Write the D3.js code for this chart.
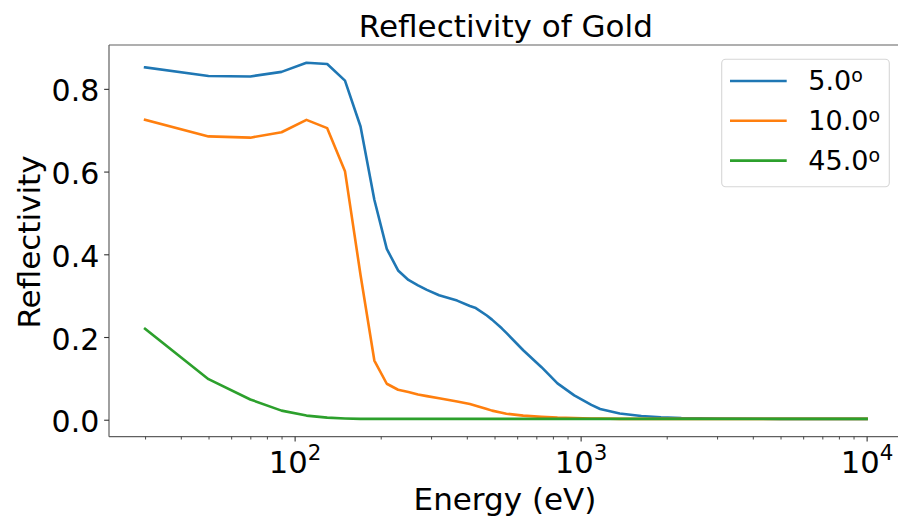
<!DOCTYPE html>
<html>
<head>
<meta charset="utf-8">
<script src="https://cdn.jsdelivr.net/npm/d3@7"></script>
<style>
  html, body { margin: 0; padding: 0; background: #ffffff; }
  svg { display: block; font-family: "DejaVu Sans", sans-serif; }
</style>
</head>
<body>
<svg id="chart" width="898" height="519"></svg>
<script>
// Photon energy grid (eV) and reflectivity of gold at three grazing angles
const energies = [30, 50, 70, 90, 110, 130, 150, 170, 190, 210, 230, 250, 270, 290, 320, 350, 370,
  410, 430, 470, 490, 530, 550, 630, 730, 830, 950, 1090, 1170, 1370, 1630, 1910, 2250, 3000, 5000, 10000];

const refl5 = [0.852, 0.831, 0.830, 0.841, 0.863, 0.860, 0.820, 0.709, 0.532, 0.413, 0.361, 0.338, 0.325,
  0.314, 0.301, 0.293, 0.288, 0.275, 0.270, 0.252, 0.242, 0.221, 0.210, 0.168, 0.127, 0.088, 0.059,
  0.036, 0.026, 0.015, 0.009, 0.006, 0.004, 0.003, 0.002, 0.002];

const refl10 = [0.725, 0.685, 0.682, 0.695, 0.725, 0.705, 0.601, 0.350, 0.143, 0.087, 0.0725, 0.067, 0.061,
  0.057, 0.052, 0.047, 0.044, 0.038, 0.034, 0.026, 0.022, 0.017, 0.0145, 0.010, 0.007, 0.005, 0.004,
  0.003, 0.003, 0.002, 0.002, 0.002, 0.002, 0.002, 0.002, 0.002];

const refl45 = [0.220, 0.098, 0.049, 0.022, 0.010, 0.005, 0.003, 0.002, 0.002, 0.002, 0.002, 0.002, 0.002,
  0.002, 0.002, 0.002, 0.002, 0.002, 0.002, 0.002, 0.002, 0.002, 0.002, 0.002, 0.002, 0.002, 0.002,
  0.002, 0.002, 0.002, 0.002, 0.002, 0.002, 0.002, 0.002, 0.002];

const angleLabels = ["5.0", "10.0", "45.0"];
const seriesColors = ["#1f77b4", "#ff7f0e", "#2ca02c"];
const yTickValues = [0.0, 0.2, 0.4, 0.6, 0.8];
const xMajorExponents = [2, 3, 4];

(function drawChart() {
  const series = [refl5, refl10, refl45].map((vals, i) => ({
    label: angleLabels[i],
    color: seriesColors[i],
    points: energies.map((e, j) => [e, vals[j]])
  }));

  // Axes box
  const axLeft = 109, axTop = 45, axBottom = 436.7;
  const decadePx = 286.0;

  // Log x scale with 5% padding in log space
  const lx0 = Math.log10(d3.min(energies)), lx1 = Math.log10(d3.max(energies));
  const lpad = (lx1 - lx0) * 0.05;
  const xDom = [Math.pow(10, lx0 - lpad), Math.pow(10, lx1 + lpad)];
  const axRight = axLeft + (lx1 - lx0 + 2 * lpad) * decadePx;
  const x = d3.scaleLog().domain(xDom).range([axLeft, axRight]);

  // Linear y scale with 5% padding
  const allY = [].concat(refl5, refl10, refl45);
  const y0 = d3.min(allY), y1 = d3.max(allY);
  const ypad = (y1 - y0) * 0.05;
  const y = d3.scaleLinear().domain([y0 - ypad, y1 + ypad]).range([axBottom, axTop]);

  const svg = d3.select("#chart");
  const tickLen = 4.86, tickPad = 4.86;

  // Data lines
  const line = d3.line().x(d => x(d[0])).y(d => y(d[1]));
  svg.append("g").selectAll("path").data(series).join("path")
    .attr("d", d => line(d.points))
    .attr("fill", "none")
    .attr("stroke", d => d.color)
    .attr("stroke-width", 2.6)
    .attr("stroke-linejoin", "round")
    .attr("stroke-linecap", "square");

  // Spines
  const spineColor = "#606060";
  const spines = [
    [axLeft, axTop, axLeft, axBottom],
    [axLeft, axBottom, axRight, axBottom],
    [axLeft, axTop, axRight, axTop],
    [axRight, axTop, axRight, axBottom]
  ];
  svg.append("g").selectAll("line").data(spines).join("line")
    .attr("x1", d => d[0]).attr("y1", d => d[1]).attr("x2", d => d[2]).attr("y2", d => d[3])
    .attr("stroke", spineColor).attr("stroke-width", 1.2);

  // Y axis
  const yAxis = d3.axisLeft(y).tickValues(yTickValues).tickFormat(d3.format(".1f"))
    .tickSize(tickLen).tickPadding(tickPad);
  const gy = svg.append("g").attr("transform", `translate(${axLeft},0)`).call(yAxis);
  gy.select(".domain").remove();
  gy.selectAll(".tick line").attr("stroke", "#333").attr("stroke-width", 1.1);
  gy.selectAll(".tick text").attr("font-size", 30).attr("fill", "#000")
    .attr("font-family", "DejaVu Sans").attr("dy", "0.40em");

  // X axis: major ticks at decades with power-of-ten labels
  const xMajor = xMajorExponents.map(p => Math.pow(10, p));
  const xAxis = d3.axisBottom(x).tickValues(xMajor).tickFormat("").tickSize(tickLen);
  const gx = svg.append("g").attr("transform", `translate(0,${axBottom})`).call(xAxis);
  gx.select(".domain").remove();
  gx.selectAll(".tick line").attr("stroke", "#333").attr("stroke-width", 1.1);
  gx.selectAll(".tick").each(function (d, i) {
    const t = d3.select(this).append("text")
      .attr("y", 36).attr("text-anchor", "middle")
      .attr("font-size", 30.6).attr("fill", "#000").attr("font-family", "DejaVu Sans");
    t.append("tspan").text("10");
    t.append("tspan").attr("font-size", 21.4).attr("dy", -12.7).text(String(xMajorExponents[i]));
  });

  // X axis minor ticks (2..9 within each decade)
  const xMinor = [];
  for (let p = 1; p <= 4; p++) {
    for (let m = 2; m <= 9; m++) {
      const v = m * Math.pow(10, p);
      if (v >= xDom[0] && v <= xDom[1]) xMinor.push(v);
    }
  }
  const gxm = svg.append("g").attr("transform", `translate(0,${axBottom})`)
    .call(d3.axisBottom(x).tickValues(xMinor).tickFormat("").tickSize(2.8));
  gxm.select(".domain").remove();
  gxm.selectAll(".tick line").attr("stroke", "#333").attr("stroke-width", 0.9);

  // Title and axis labels
  svg.append("text").attr("x", (axLeft + axRight) / 2).attr("y", 36.7).attr("text-anchor", "middle")
    .attr("font-size", 31).attr("fill", "#000").text("Reflectivity of Gold");
  svg.append("text").attr("x", 505).attr("y", 509.5).attr("text-anchor", "middle")
    .attr("font-size", 31).attr("fill", "#000").text("Energy (eV)");
  svg.append("text").attr("transform", "translate(39.5,242) rotate(-90)").attr("text-anchor", "middle")
    .attr("font-size", 31).attr("fill", "#000").text("Reflectivity");

  // Legend
  const legend = svg.append("g");
  legend.append("rect").attr("x", 721.7).attr("y", 59.3).attr("width", 167.6).attr("height", 127.4)
    .attr("rx", 4).attr("fill", "#ffffff").attr("fill-opacity", 0.8)
    .attr("stroke", "#d6d6d6").attr("stroke-width", 1.1);
  const rowGap = 39.8;
  series.forEach((s, i) => {
    const cy = 81 + i * rowGap;
    legend.append("line").attr("x1", 730).attr("x2", 786.7).attr("y1", cy).attr("y2", cy)
      .attr("stroke", s.color).attr("stroke-width", 2.6);
    const t = legend.append("text").attr("x", 808.3).attr("y", cy + 9.2)
      .attr("font-size", 27).attr("fill", "#000");
    t.append("tspan").text(s.label);
    t.append("tspan").attr("font-size", 19).attr("dy", -8).text("o");
  });
})();
</script>
</body>
</html>
